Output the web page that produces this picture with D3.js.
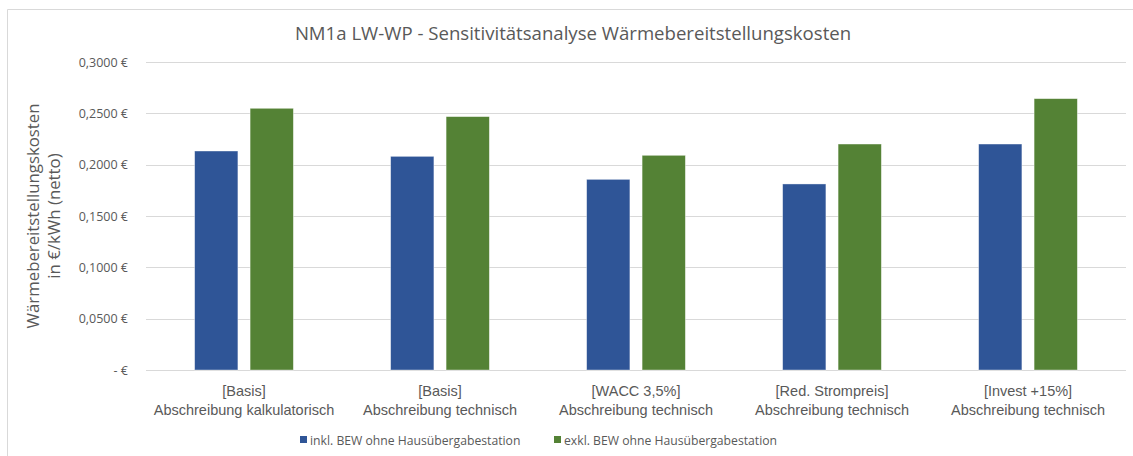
<!DOCTYPE html>
<html>
<head>
<meta charset="utf-8">
<script src="https://cdn.jsdelivr.net/npm/d3@7"></script>
<style>
  html, body { margin: 0; padding: 0; background: #fff; }
  svg { display: block; font-family: "Open Sans", "Noto Sans", sans-serif; }
</style>
</head>
<body>
<svg id="chart" width="1133" height="456"></svg>
<script>
// Scenarios (category labels, two lines each)
const categories = [
  ["[Basis]", "Abschreibung kalkulatorisch"],
  ["[Basis]", "Abschreibung technisch"],
  ["[WACC 3,5%]", "Abschreibung technisch"],
  ["[Red. Strompreis]", "Abschreibung technisch"],
  ["[Invest +15%]", "Abschreibung technisch"]
];
const seriesNames = [
  "inkl. BEW ohne Hausübergabestation",
  "exkl. BEW ohne Hausübergabestation"
];
// Heat supply cost in €/kWh (net)
const inklBEW = [0.2133, 0.2081, 0.1857, 0.1812, 0.2201];
const exklBEW = [0.2549, 0.2468, 0.2091, 0.2201, 0.2643];
const yTicks = [0, 0.05, 0.10, 0.15, 0.20, 0.25, 0.30];

const colors = ["#2F5597", "#548235"];
const textColor = "#595959";

const svg = d3.select("#chart");
const W = 1133, H = 456;
const plot = { left: 146, right: 1126, top: 62, bottom: 370 };

// Outer chart frame
svg.append("path")
  .attr("d", `M7.5,${H} V9.5 H${W}`)
  .attr("fill", "none")
  .attr("stroke", "#d9d9d9")
  .attr("stroke-width", 1);

const x0 = d3.scaleBand()
  .domain(d3.range(categories.length))
  .range([plot.left, plot.right])
  .paddingInner(0)
  .paddingOuter(0);

const x1 = d3.scaleBand()
  .domain([0, 1])
  .range([0, x0.bandwidth()])
  .paddingInner(0.22)
  .paddingOuter(0.877);

const y = d3.scaleLinear()
  .domain([0, 0.30])
  .range([plot.bottom, plot.top]);

// Gridlines
svg.append("g")
  .selectAll("line")
  .data(yTicks)
  .join("line")
  .attr("x1", plot.left)
  .attr("x2", plot.right)
  .attr("y1", d => Math.round(y(d)) + 0.5)
  .attr("y2", d => Math.round(y(d)) + 0.5)
  .attr("stroke", "#d9d9d9")
  .attr("stroke-width", 1);

// Y axis tick labels
const fmt = d => d === 0 ? "-   €" : d3.format(".4f")(d).replace(".", ",") + " €";
const yAxis = d3.axisLeft(y)
  .tickValues(yTicks)
  .tickSize(0)
  .tickPadding(0)
  .tickFormat(fmt);
const gy = svg.append("g")
  .attr("transform", `translate(128,0)`)
  .call(yAxis);
gy.select(".domain").remove();
gy.selectAll("text")
  .attr("fill", textColor)
  .style("font-size", "12.5px")
  .style("font-family", "\"Open Sans\", sans-serif");

// Bars
const data = categories.map((c, i) => [inklBEW[i], exklBEW[i]]);
const groups = svg.append("g")
  .selectAll("g")
  .data(data)
  .join("g")
  .attr("transform", (d, i) => `translate(${x0(i)},0)`);

groups.selectAll("rect")
  .data(d => d.map((v, k) => ({ v, k })))
  .join("rect")
  .attr("x", d => x1(d.k))
  .attr("width", x1.bandwidth())
  .attr("y", d => y(d.v))
  .attr("height", d => y(0) - y(d.v))
  .attr("fill", d => colors[d.k])
  .attr("stroke", "#ffffff")
  .attr("stroke-opacity", 0.5)
  .attr("stroke-width", 0.75);

// X axis labels (two lines per category)
const xAxis = d3.axisBottom(x0).tickSize(0).tickFormat("");
const gx = svg.append("g")
  .attr("transform", `translate(0,${plot.bottom})`)
  .call(xAxis);
gx.select(".domain").remove();
gx.selectAll(".tick").each(function (d) {
  const t = d3.select(this).append("text")
    .attr("fill", textColor)
    .attr("text-anchor", "middle")
    .style("font-size", "14.5px");
  t.append("tspan").attr("x", 0).attr("y", 26).text(categories[d][0]);
  t.append("tspan").attr("x", 0).attr("y", 45).text(categories[d][1]);
});

// Title
svg.append("text")
  .attr("x", 573)
  .attr("y", 40)
  .attr("text-anchor", "middle")
  .attr("fill", textColor)
  .style("font-size", "18.6px")
  .text("NM1a LW-WP - Sensitivitätsanalyse Wärmebereitstellungskosten");

// Y axis title
const yt = svg.append("text")
  .attr("transform", `translate(0,${(plot.top + plot.bottom) / 2}) rotate(-90)`)
  .attr("text-anchor", "middle")
  .attr("fill", textColor)
  .style("font-size", "16.8px");
yt.append("tspan").attr("x", 0).attr("y", 39).text("Wärmebereitstellungskosten");
yt.append("tspan").attr("x", 0).attr("y", 60).text("in €/kWh (netto)");

// Legend
const legend = svg.append("g").attr("transform", "translate(300,440)");
const legX = [0, 254];
const li = legend.selectAll("g")
  .data(seriesNames)
  .join("g")
  .attr("transform", (d, i) => `translate(${legX[i]},0)`);
li.append("rect")
  .attr("x", 0).attr("y", -4)
  .attr("width", 7).attr("height", 7)
  .attr("fill", (d, i) => colors[i]);
li.append("text")
  .attr("x", 10).attr("y", 5)
  .attr("fill", textColor)
  .style("font-size", "12.2px")
  .text(d => d);
</script>
</body>
</html>
